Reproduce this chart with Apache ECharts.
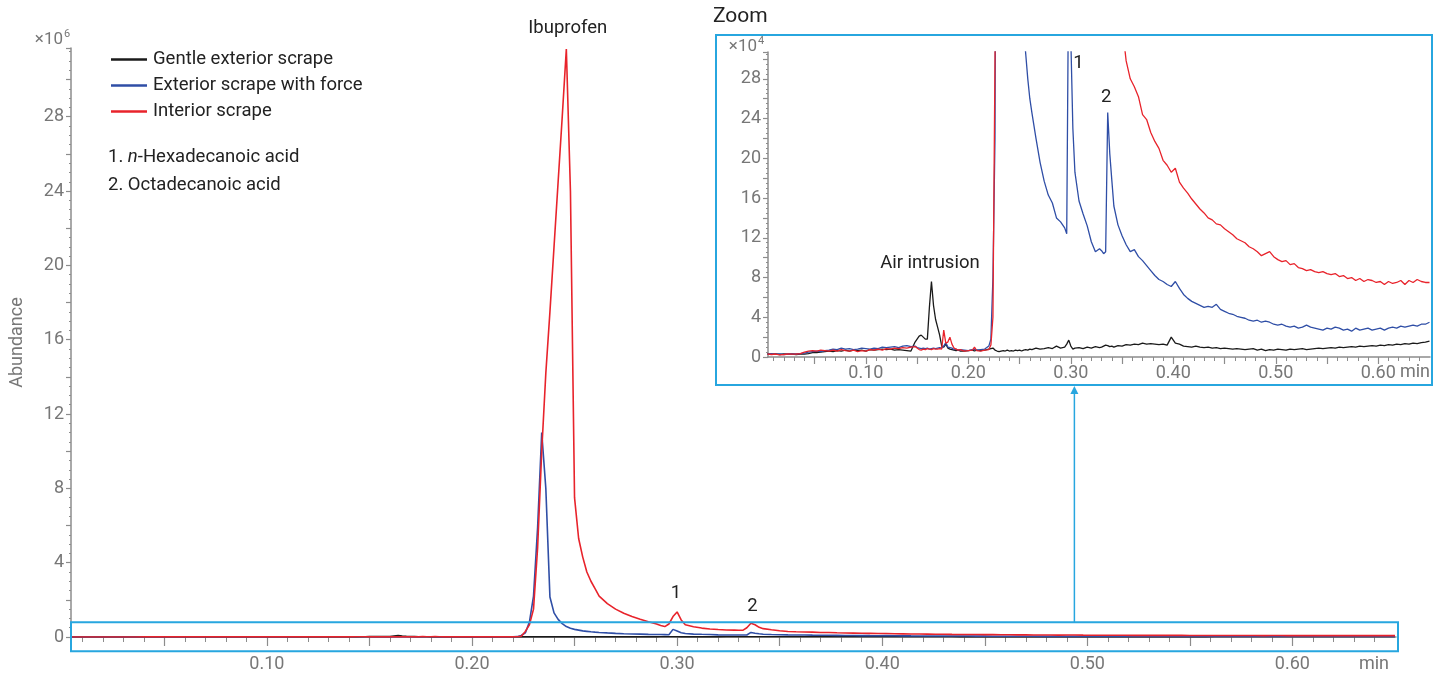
<!DOCTYPE html>
<html>
<head>
<meta charset="utf-8">
<script src="https://cdn.jsdelivr.net/npm/echarts@6/dist/echarts.min.js"></script>
<style>
html,body{margin:0;padding:0;background:#fff;}
#chart{width:1440px;height:673px;}
</style>
</head>
<body>
<div id="chart"></div>
<script>
// Retention time (min)
const times = [
0.004,0.008,0.012,0.016,0.020,0.024,0.028,0.032,0.036,0.040,
0.044,0.048,0.052,0.056,0.060,0.064,0.068,0.072,0.076,0.080,
0.084,0.088,0.092,0.096,0.100,0.104,0.108,0.112,0.116,0.120,
0.124,0.128,0.132,0.136,0.140,0.144,0.148,
0.150,0.152,0.154,0.156,0.158,0.160,0.162,0.164,0.166,0.168,
0.170,0.172,0.174,0.176,0.178,0.180,0.182,0.184,0.186,0.188,
0.190,0.192,
0.196,0.200,0.204,0.206,0.208,0.212,0.216,0.220,
0.222,0.224,0.226,0.228,0.230,0.232,0.234,0.236,0.238,0.240,
0.242,0.244,0.246,0.248,0.250,0.252,0.254,0.256,0.258,0.260,0.262,
0.266,0.270,0.274,0.278,0.282,0.286,0.290,
0.292,0.294,0.296,0.298,0.300,0.302,0.304,
0.308,0.312,0.316,0.320,0.324,0.328,
0.330,0.332,0.334,0.336,0.338,0.340,0.342,
0.346,0.350,0.354,0.358,0.362,0.366,0.370,0.374,0.378,0.382,
0.386,0.390,0.394,0.398,0.402,0.406,0.410,0.414,0.418,0.422,
0.426,0.430,0.434,0.438,0.442,0.446,0.450,0.454,0.458,0.462,
0.466,0.470,0.474,0.478,0.482,0.486,0.490,0.494,0.498,0.502,
0.506,0.510,0.514,0.518,0.522,0.526,0.530,0.534,0.538,0.542,
0.546,0.550,0.554,0.558,0.562,0.566,0.570,0.574,0.578,0.582,
0.586,0.590,0.594,0.598,0.602,0.606,0.610,0.614,0.618,0.622,
0.626,0.630,0.634,0.638,0.642,0.646,0.650
];

// Abundance, in units of 10^4 counts
const gentleExterior = [
0.30,0.28,0.30,0.25,0.30,0.28,0.30,0.25,0.30,0.28,
0.35,0.45,0.45,0.50,0.55,0.60,0.55,0.65,0.60,0.70,
0.60,0.70,0.65,0.70,0.60,0.75,0.70,0.75,0.80,0.75,
0.80,0.70,0.75,0.70,0.65,0.60,1.50,
1.80,2.10,2.20,2.00,1.80,1.80,5.00,7.60,5.20,3.80,
3.00,2.20,1.10,1.00,1.30,0.90,0.80,0.75,0.70,0.65,
0.70,0.60,
0.60,0.65,0.70,0.60,0.70,0.65,0.70,0.80,
0.85,0.90,0.70,0.60,0.55,0.60,0.65,0.60,0.70,0.60,
0.65,0.60,0.70,0.65,0.70,0.60,0.70,0.75,0.70,0.80,0.75,
0.90,0.80,0.85,0.95,0.85,1.10,0.90,
0.95,1.00,1.30,1.70,1.10,0.80,0.90,
0.95,0.85,1.00,0.90,1.05,0.95,
1.00,1.10,1.20,1.15,1.05,1.10,1.00,
1.15,1.10,1.25,1.20,1.30,1.25,1.40,1.30,1.35,1.30,
1.25,1.30,1.20,2.00,1.40,1.30,1.10,1.05,1.00,1.10,
1.00,0.95,1.00,0.90,0.95,0.85,0.90,0.85,0.80,0.85,
0.80,0.75,0.80,0.85,0.70,0.80,0.65,0.75,0.70,0.80,
0.75,0.70,0.80,0.75,0.80,0.85,0.75,0.80,0.85,0.90,
0.85,0.90,0.95,0.90,1.00,0.95,1.00,1.05,1.00,1.10,
1.05,1.10,1.15,1.10,1.20,1.15,1.25,1.20,1.30,1.25,
1.35,1.30,1.40,1.35,1.45,1.50,1.60
];

const exteriorForce = [
0.30,0.35,0.28,0.30,0.25,0.30,0.32,0.30,0.35,0.40,
0.50,0.55,0.60,0.55,0.65,0.70,0.80,0.75,0.90,0.80,
0.85,0.75,0.80,0.90,0.85,0.80,0.90,0.85,1.00,0.95,
1.00,1.05,0.95,1.10,1.15,1.05,1.10,
0.95,0.90,0.85,0.90,0.85,0.90,0.80,0.85,0.90,0.85,
0.90,0.95,0.90,1.10,1.45,1.00,0.95,0.90,0.75,0.80,
0.70,0.75,
0.70,0.65,0.75,0.80,0.70,0.75,0.80,1.10,
1.8,8,22,80,220,590,1100,800,215,130,
95,72,56,47,41,37,33,30.5,28,26,24.6,
22.0,19.6,17.7,16.3,15.5,14.0,13.6,
13.3,13.0,12.4,41,32,23,18.6,
15.7,14.4,13.2,11.6,10.6,10.9,
10.7,10.4,10.6,24.6,20.5,17.8,15.2,
13.3,12.2,11.3,10.6,10.8,10.1,9.7,9.2,8.7,8.2,
7.8,7.6,7.3,7.1,7.6,6.9,6.3,5.9,5.6,5.4,
5.2,5.0,5.1,5.0,5.3,4.8,4.6,4.4,4.3,4.1,
4.0,3.9,3.7,3.6,3.7,3.5,3.6,3.5,3.3,3.2,
3.3,3.1,3.0,3.1,2.9,3.0,3.2,3.0,2.9,2.8,
2.7,2.9,2.8,3.0,2.9,2.7,2.8,2.6,2.9,2.7,
2.8,2.9,2.7,2.8,2.9,2.7,2.9,3.0,2.9,3.1,
3.0,3.1,3.2,3.1,3.3,3.3,3.5
];

const interior = [
0.30,0.25,0.30,0.22,0.25,0.30,0.28,0.30,0.35,0.50,
0.60,0.65,0.60,0.70,0.65,0.60,0.70,0.60,0.75,0.65,
0.60,0.70,0.55,0.65,0.60,0.75,0.70,0.80,0.70,0.85,
0.80,0.90,0.85,0.95,0.90,1.00,1.05,
0.90,0.75,0.70,0.80,0.75,0.85,0.80,0.75,0.85,0.80,
0.80,0.85,0.80,2.70,1.40,1.50,2.00,1.30,0.90,0.80,
0.70,0.75,
0.60,0.65,0.70,1.00,0.65,0.60,0.70,0.75,
1.2,4,30,65,150,480,1000,1420,1750,2100,
2450,2800,3165,2400,750,530,430,350,300,260,220,
180,150,128,110,95,82,70,
62,56,70,110,135,92,66,
55,48,43,40,38,37,
36,36,50,74,66,52,45,
39,33.5,29.8,28.0,27.2,26.2,24.4,23.9,22.6,21.7,
21.0,19.8,19.3,18.6,19.0,17.6,17.0,16.5,15.9,15.4,
14.9,14.5,14.0,13.8,13.4,13.3,12.9,12.6,12.3,11.9,
11.7,11.5,11.1,10.9,10.6,10.2,10.4,10.6,10.1,9.8,
9.6,9.7,9.3,9.4,9.0,8.9,8.7,8.8,8.6,8.5,
8.6,8.4,8.3,8.4,8.1,8.2,7.9,8.0,7.7,7.9,
7.6,7.8,7.7,7.5,7.6,7.3,7.6,7.4,7.5,7.7,
7.3,7.7,7.5,7.8,7.6,7.5,7.5
];

const seriesNames = ['Gentle exterior scrape', 'Exterior scrape with force', 'Interior scrape'];
const seriesColors = ['#1a1a1a', '#2f4ea6', '#e8232b'];
const seriesValues = [gentleExterior, exteriorForce, interior];

// Axis ticks / labels
const xLabelValues = [0.10, 0.20, 0.30, 0.40, 0.50, 0.60];
const xMajorTicks = [0.05, 0.10, 0.15, 0.20, 0.25, 0.30, 0.35, 0.40, 0.45, 0.50, 0.55, 0.60];
const xMinorTicks = [0.01,0.02,0.03,0.04,0.06,0.07,0.08,0.09,0.11,0.12,0.13,0.14,
  0.16,0.17,0.18,0.19,0.21,0.22,0.23,0.24,0.26,0.27,0.28,0.29,0.31,0.32,0.33,0.34,
  0.36,0.37,0.38,0.39,0.41,0.42,0.43,0.44,0.46,0.47,0.48,0.49,0.51,0.52,0.53,0.54,
  0.56,0.57,0.58,0.59,0.61,0.62,0.63,0.64];
const X_MIN = 0.0045, X_MAX = 0.6505;
const MAIN_Y_MAX = 31.7;   // x10^6
const ZOOM_Y_MAX = 30.7;   // x10^4

// Annotations
const peakLabels = [
  {text: 'Ibuprofen', t: 0.2467, v: 3170, dy: -20},
  {text: '1', t: 0.2995, v: 135, dy: -19},
  {text: '2', t: 0.3367, v: 75, dy: -17}
];
const zoomLabels = [
  {text: '1', t: 0.3075, v: 29.6},
  {text: '2', t: 0.3345, v: 26.1},
  {text: 'Air intrusion', t: 0.1625, v: 9.4}
];

const AX = '#8c8c8c', LBL = '#777777', TXT = '#222222', FRAME = '#27a6df';
const FONT = 'Roboto, "Noto Sans", sans-serif';
const LFS = 18;     // axis label size
const TFS = 18.5;   // annotation size

const gridMain = {left: 71, right: 44, top: 48, bottom: 36};
const gridZoom = {left: 768, right: 10, top: 52, bottom: 316};

function xAxisMajor(gridIndex, tickLen, margin) {
  return {
    type: 'value', gridIndex, min: X_MIN, max: X_MAX,
    axisLine: {show: true, lineStyle: {color: AX, width: 1.5}},
    axisTick: {show: true, customValues: xMajorTicks, length: tickLen, lineStyle: {color: AX, width: 1.2}},
    axisLabel: {show: true, customValues: xLabelValues, formatter: v => v.toFixed(2),
      color: LBL, fontSize: LFS, fontFamily: FONT, margin},
    splitLine: {show: false}
  };
}
function xAxisMinor(gridIndex, tickLen) {
  return {
    type: 'value', gridIndex, min: X_MIN, max: X_MAX,
    axisLine: {show: false},
    axisTick: {show: true, customValues: xMinorTicks, length: tickLen, lineStyle: {color: AX, width: 1}},
    axisLabel: {show: false},
    splitLine: {show: false}
  };
}
function yAxisMain(gridIndex, max, extra) {
  return Object.assign({
    type: 'value', gridIndex, min: 0, max, interval: 2,
    axisLine: {show: true, lineStyle: {color: AX, width: 1.5}},
    axisTick: {show: true, length: 5, lineStyle: {color: AX, width: 1.2}},
    minorTick: {show: true, splitNumber: 4, length: 2, lineStyle: {color: AX, width: 1}},
    axisLabel: {color: LBL, fontSize: LFS, fontFamily: FONT, margin: 7,
      formatter: v => (Math.abs(v % 4) < 1e-9 ? String(v) : ''), showMaxLabel: false},
    splitLine: {show: false}, minorSplitLine: {show: false}
  }, extra || {});
}

const series = [];
seriesNames.forEach((name, i) => {
  series.push({
    name, type: 'line', xAxisIndex: 0, yAxisIndex: 0,
    data: times.map((t, k) => [t, seriesValues[i][k] / 100]),
    symbol: 'none', showSymbol: false, clip: true,
    lineStyle: {color: seriesColors[i], width: 1.6}, itemStyle: {color: seriesColors[i]}
  });
});
seriesNames.forEach((name, i) => {
  series.push({
    name, type: 'line', xAxisIndex: 2, yAxisIndex: 2,
    data: times.map((t, k) => [t, seriesValues[i][k]]),
    symbol: 'none', showSymbol: false, clip: true,
    lineStyle: {color: seriesColors[i], width: 1.3}, itemStyle: {color: seriesColors[i]}
  });
});

const option = {
  animation: false,
  backgroundColor: '#ffffff',
  textStyle: {fontFamily: FONT},
  grid: [
    Object.assign({outerBoundsMode: 'none'}, gridMain),
    Object.assign({outerBoundsMode: 'none'}, gridMain),
    Object.assign({outerBoundsMode: 'none'}, gridZoom),
    Object.assign({outerBoundsMode: 'none'}, gridZoom)
  ],
  xAxis: [xAxisMajor(0, 9, 18), xAxisMinor(1, 5), xAxisMajor(2, 7, 7), xAxisMinor(3, 4)],
  yAxis: [
    yAxisMain(0, MAIN_Y_MAX, {name: 'Abundance', nameLocation: 'middle', nameGap: 45,
      nameTextStyle: {color: LBL, fontSize: LFS, fontFamily: FONT}}),
    {type: 'value', gridIndex: 1, show: false, min: 0, max: 1},
    yAxisMain(2, ZOOM_Y_MAX),
    {type: 'value', gridIndex: 3, show: false, min: 0, max: 1}
  ],
  legend: {
    data: seriesNames.map(n => ({name: n, icon: 'rect'})), orient: 'vertical', left: 106, top: 45,
    itemWidth: 36, itemHeight: 2.5, itemGap: 7,
    textStyle: {color: TXT, fontSize: TFS, fontFamily: FONT, lineHeight: 18, padding: [0, 0, 0, 1]},
    selectedMode: false
  },
  series
};

const chart = echarts.init(document.getElementById('chart'), null, {renderer: 'canvas'});
chart.setOption(option);

const pm = (t, v) => chart.convertToPixel({gridIndex: 0}, [t, v]);
const pz = (t, v) => chart.convertToPixel({gridIndex: 2}, [t, v]);

const g = [];
function txt(x, y, text, opt) {
  g.push({type: 'text', x, y, silent: true, z: 100,
    style: Object.assign({text, fill: TXT, font: TFS + 'px ' + FONT, align: 'center', verticalAlign: 'middle'}, opt || {})});
}
peakLabels.forEach(p => { const q = pm(p.t, p.v / 100); txt(q[0], q[1] + p.dy, p.text); });
zoomLabels.forEach(p => { const q = pz(p.t, p.v); txt(q[0], q[1], p.text); });

// compound notes under the legend
g.push({type: 'text', x: 108, y: 157, z: 100, silent: true, style: {
  text: '1. {i|n}-Hexadecanoic acid', fill: TXT, font: TFS + 'px ' + FONT, align: 'left', verticalAlign: 'middle',
  rich: {i: {fontStyle: 'italic', fontSize: TFS, fontFamily: FONT, fill: TXT}}}});
txt(108, 185, '2. Octadecanoic acid', {align: 'left'});

// exponent labels
const mTop = pm(X_MIN, MAIN_Y_MAX);
txt(mTop[0] - 8, mTop[1] - 8, '×10', {align: 'right', fill: LBL, font: '17px ' + FONT});
txt(mTop[0] - 7, mTop[1] - 14, '6', {align: 'left', fill: LBL, font: '11px ' + FONT});
const zTop = pz(X_MIN, ZOOM_Y_MAX);
txt(zTop[0] - 11, zTop[1] - 5, '×10', {align: 'right', fill: LBL, font: '17px ' + FONT});
txt(zTop[0] - 10, zTop[1] - 11, '4', {align: 'left', fill: LBL, font: '11px ' + FONT});

// "min" unit labels
const mEnd = pm(X_MAX, 0);
txt(mEnd[0] - 22, mEnd[1] + 27, 'min', {fill: LBL, font: LFS + 'px ' + FONT});
const zEnd = pz(X_MAX, 0);
txt(zEnd[0] - 15, zEnd[1] + 15, 'min', {fill: LBL, font: LFS + 'px ' + FONT});

// zoom region rectangle on the main chart
const r0 = pm(X_MIN, 0.8), r1 = pm(X_MAX, -0.77);
g.push({type: 'rect', z: 50, silent: true, shape: {x: r0[0], y: r0[1], width: r1[0] - r0[0] + 2, height: r1[1] - r0[1]},
  style: {fill: null, stroke: FRAME, lineWidth: 2}});

// inset frame
const f0 = pz(X_MIN, ZOOM_Y_MAX), f1 = pz(X_MAX, 0);
const fx = f0[0] - 52, fy = f0[1] - 17, fw = f1[0] + 2 - fx, fh = f1[1] + 28 - fy;
g.push({type: 'rect', z: 50, silent: true, shape: {x: fx, y: fy, width: fw, height: fh},
  style: {fill: null, stroke: FRAME, lineWidth: 2}});
txt(fx - 3, fy - 18, 'Zoom', {align: 'left', font: '21px ' + FONT});

// arrow from zoom region to inset
const ax = pm(0.4937, 0)[0];
g.push({type: 'line', z: 50, silent: true, shape: {x1: ax, y1: r0[1], x2: ax, y2: fy + fh + 6},
  style: {stroke: FRAME, lineWidth: 1.5}});
g.push({type: 'polygon', z: 50, silent: true, shape: {points: [[ax - 4, fy + fh + 9], [ax + 4, fy + fh + 9], [ax, fy + fh + 1]]},
  style: {fill: FRAME}});

chart.setOption({graphic: g});
</script>
</body>
</html>
